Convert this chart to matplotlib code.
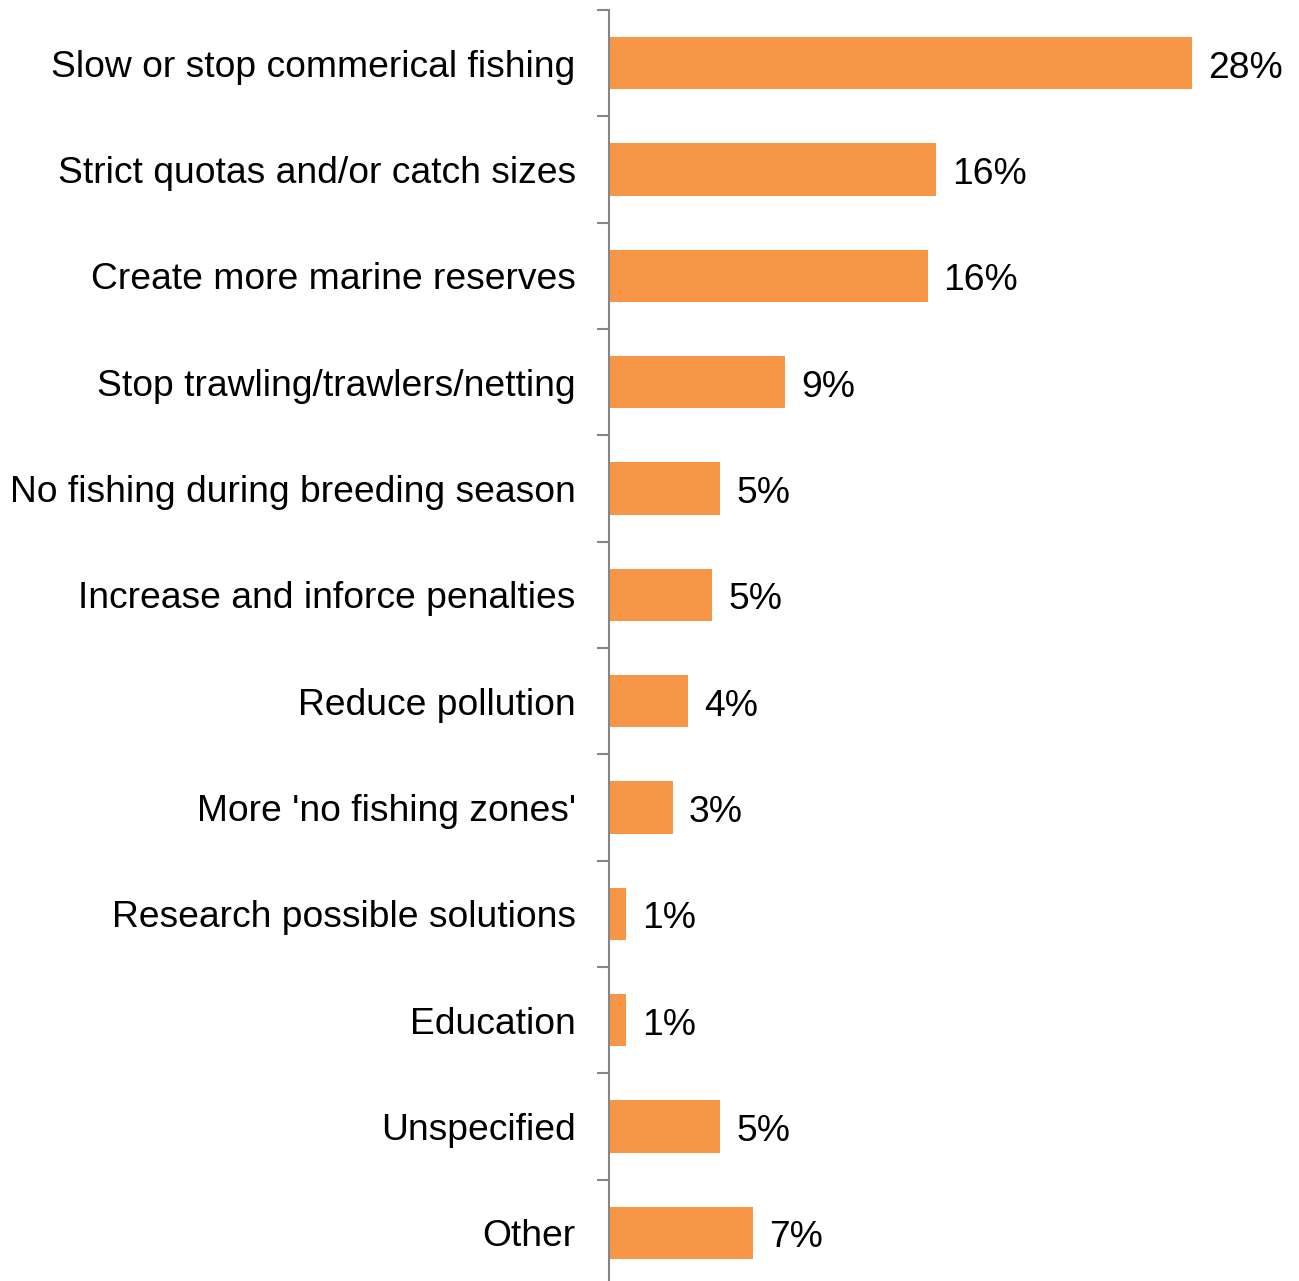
import matplotlib
matplotlib.use("Agg")
import matplotlib.pyplot as plt

categories = [
    "Slow or stop commerical fishing",
    "Strict quotas and/or catch sizes",
    "Create more marine reserves",
    "Stop trawling/trawlers/netting",
    "No fishing during breeding season",
    "Increase and inforce penalties",
    "Reduce pollution",
    "More 'no fishing zones'",
    "Research possible solutions",
    "Education",
    "Unspecified",
    "Other",
]
values = [28.0, 15.7, 15.3, 8.45, 5.35, 4.95, 3.8, 3.05, 0.8, 0.8, 5.35, 6.9]
value_labels = ["28%", "16%", "16%", "9%", "5%", "5%", "4%", "3%", "1%", "1%", "5%", "7%"]

plt.rcParams['font.family'] = ['Liberation Sans', 'DejaVu Sans']

W, H = 1299, 1281
fig = plt.figure(figsize=(W / 100, H / 100), dpi=100)
ax = fig.add_axes([609 / W, -5 / H, 1 - 609 / W, 1 - 5 / H])

n = len(categories)
ypos = list(range(n))
ax.barh(ypos, values, height=0.49, color="#F79646", edgecolor="none")
ax.set_ylim(n - 0.5, -0.5)
ax.set_xlim(0, 28.0 * 690 / 583)

FS = 26.8
for y, v, lab in zip(ypos, values, value_labels):
    ax.annotate(lab, (v, y), xytext=(16, -5), textcoords="offset pixels",
                ha="left", va="center", fontsize=FS, color="black")

# category labels
ax.set_yticks(ypos)
ax.set_yticklabels(categories, fontsize=FS)
ax.tick_params(axis="y", which="major", length=0, pad=24)
# boundary tick marks
ax.set_yticks([i - 0.5 for i in range(n + 1)], minor=True)
ax.tick_params(axis="y", which="minor", length=9, width=1.5, color="#868686", direction="out")

ax.set_xticks([])
for s in ["top", "right", "bottom"]:
    ax.spines[s].set_visible(False)
ax.spines["left"].set_color("#868686")
ax.spines["left"].set_linewidth(1.5)

fig.savefig("out.png", dpi=100)
